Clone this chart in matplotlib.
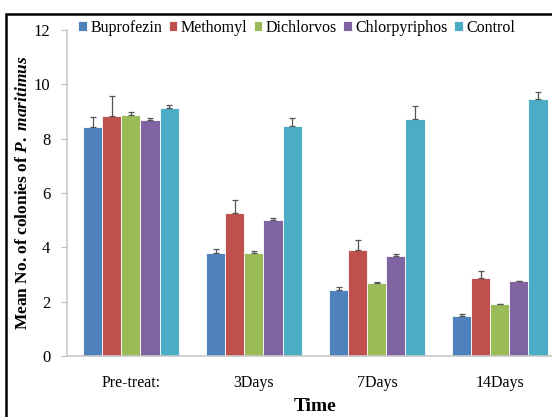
import numpy as np
import matplotlib.pyplot as plt
from matplotlib.patches import Rectangle

plt.rcParams['font.family'] = 'Liberation Serif'
plt.rcParams['mathtext.fontset'] = 'custom'
plt.rcParams['mathtext.it'] = 'Liberation Serif:italic:bold'
plt.rcParams['mathtext.rm'] = 'Liberation Serif:bold'

categories = ['Pre-treat:', '3Days', '7Days', '14Days']
series = ['Buprofezin', 'Methomyl', 'Dichlorvos', 'Chlorpyriphos', 'Control']
colors = ['#4F81BD', '#C0504D', '#9BBB59', '#8064A2', '#4BACC6']

means = {
    'Buprofezin':    [8.43, 3.78, 2.44, 1.47],
    'Methomyl':      [8.83, 5.27, 3.90, 2.88],
    'Dichlorvos':    [8.86, 3.78, 2.67, 1.90],
    'Chlorpyriphos': [8.67, 5.02, 3.69, 2.75],
    'Control':       [9.14, 8.48, 8.73, 9.46],
}
errors = {
    'Buprofezin':    [0.35, 0.17, 0.11, 0.06],
    'Methomyl':      [0.75, 0.46, 0.36, 0.26],
    'Dichlorvos':    [0.11, 0.07, 0.04, 0.03],
    'Chlorpyriphos': [0.08, 0.07, 0.08, 0.02],
    'Control':       [0.11, 0.27, 0.47, 0.27],
}

fig = plt.figure(figsize=(5.52, 4.17), dpi=100)
ax = fig.add_axes([0.1214, 0.1463, 0.900, 0.7818])

x = np.arange(len(categories))
w = 0.155
for i, (name, c) in enumerate(zip(series, colors)):
    pos = x + (i - 2) * w
    vals = np.array(means[name])
    errs = np.array(errors[name])
    ax.bar(pos, vals, width=w, color=c, edgecolor='white', linewidth=0.6, label=name)
    ax.errorbar(pos, vals, yerr=[np.zeros_like(errs), errs], fmt='none',
                ecolor='#555555', elinewidth=0.9, capsize=2.5, capthick=0.9)

ax.set_xlim(-0.52, 3.52)
ax.set_ylim(0, 12)
ax.set_yticks(range(0, 13, 2))
ax.set_xticks(x)
ax.set_xticklabels(categories, fontsize=11.5)
ax.tick_params(axis='x', length=0, pad=14)
ax.tick_params(axis='y', labelsize=12, length=4, color='#BBBBBB', pad=8)
for s in ['top', 'right']:
    ax.spines[s].set_visible(False)
for s in ['left', 'bottom']:
    ax.spines[s].set_color('#C8C8C8')
    ax.spines[s].set_linewidth(1.2)

ax.set_xlabel('Time', fontsize=14, fontweight='bold', labelpad=5)
ax.set_ylabel(r'Mean No. of colonies of $\mathit{P.\ maritimus}$',
              fontsize=12.5, fontweight='bold')
ax.yaxis.set_label_coords(-0.072, 0.50)

ax.legend(loc='upper center', bbox_to_anchor=(0.462, 1.075), ncol=5, frameon=False,
          fontsize=11.5, handlelength=0.55, handleheight=0.55, handletextpad=0.2,
          columnspacing=0.4)

fig.patches.append(Rectangle((6 / 552, -0.1), 1.2, (417 - 14) / 417 + 0.1,
                             transform=fig.transFigure, fill=False,
                             edgecolor='black', linewidth=1.8))

fig.savefig('out.png', dpi=100)
